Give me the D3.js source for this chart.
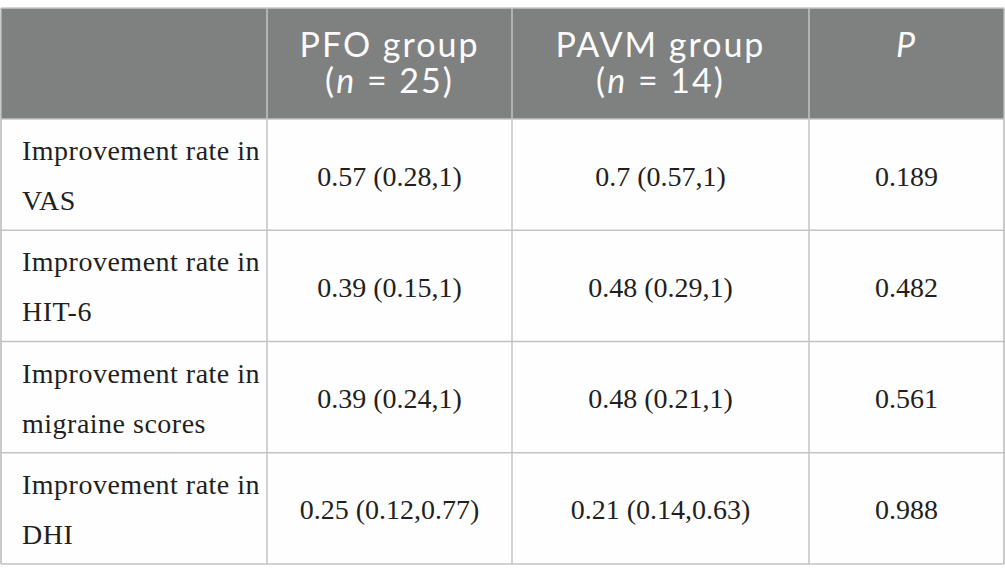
<!DOCTYPE html>
<html>
<head>
<meta charset="utf-8">
<script src="https://cdn.jsdelivr.net/npm/d3@7"></script>
<style>
  body { margin: 0; background: #fff; }
  svg { display: block; }
  .hdr { font-family: Lato, "Open Sans", sans-serif; fill: #fbfbfb; letter-spacing: 2px; }
  .cell { font-family: "Liberation Serif", "DejaVu Serif", serif; fill: #231f20; }
</style>
</head>
<body>
<div id="chart"></div>
<script>
// table content
const headers = [[""], ["PFO group", "(#n# = 25)"], ["PAVM group", "(#n# = 14)"], ["#P#"]];
const rowLabels = [
  ["Improvement rate in", "VAS"],
  ["Improvement rate in", "HIT-6"],
  ["Improvement rate in", "migraine scores"],
  ["Improvement rate in", "DHI"]
];
const pfoValues = ["0.57 (0.28,1)", "0.39 (0.15,1)", "0.39 (0.24,1)", "0.25 (0.12,0.77)"];
const pavmValues = ["0.7 (0.57,1)", "0.48 (0.29,1)", "0.48 (0.21,1)", "0.21 (0.14,0.63)"];
const pValues = ["0.189", "0.482", "0.561", "0.988"];

const width = 1005, height = 583;
const tLeft = 1, tRight = 1004, tTop = 8, headBottom = 119, tBottom = 564;
// column edges in table units
const colEdges = [0, 266, 511, 808, 1003];

const svg = d3.select("#chart").append("svg")
    .attr("width", width)
    .attr("height", height);

const xScale = d3.scaleLinear().domain([0, 1003]).range([tLeft, tRight]);
const yScale = d3.scaleBand()
    .domain(d3.range(rowLabels.length))
    .range([headBottom, tBottom]);

// header background
svg.append("rect")
    .attr("x", xScale(0)).attr("y", tTop)
    .attr("width", xScale(1003) - xScale(0)).attr("height", headBottom - tTop)
    .attr("fill", "#7f8080");

// body background
svg.append("rect")
    .attr("x", xScale(0)).attr("y", headBottom)
    .attr("width", xScale(1003) - xScale(0)).attr("height", tBottom - headBottom)
    .attr("fill", "#fefefe");

// grid lines
const lineColor = "#c3c3c3";
svg.selectAll(".hline")
    .data(d3.range(rowLabels.length + 1))
    .enter().append("line")
    .attr("class", "hline")
    .attr("x1", xScale(0)).attr("x2", xScale(1003))
    .attr("y1", d => d < rowLabels.length ? yScale(d) : tBottom)
    .attr("y2", d => d < rowLabels.length ? yScale(d) : tBottom)
    .attr("stroke", lineColor).attr("stroke-width", 1.5);

svg.append("line")
    .attr("x1", xScale(0)).attr("x2", xScale(1003))
    .attr("y1", tTop).attr("y2", tTop)
    .attr("stroke", "#c8c8c8").attr("stroke-width", 1.5);

svg.selectAll(".vline")
    .data(colEdges)
    .enter().append("line")
    .attr("class", "vline")
    .attr("x1", d => xScale(d)).attr("x2", d => xScale(d))
    .attr("y1", tTop)
    .attr("y2", tBottom)
    .attr("stroke", (d, i) => (i === 0 || i === colEdges.length - 1) ? "#b8b8b8" : lineColor)
    .attr("stroke-width", 1.5);

// #...# marks italic
function addRich(lineSel, str) {
  str.split("#").forEach((part, k) => {
    if (!part) return;
    lineSel.append("tspan")
      .attr("font-style", k % 2 === 1 ? "italic" : "normal")
      .text(part);
  });
}

const colCenter = i => (xScale(colEdges[i]) + xScale(colEdges[i + 1])) / 2;

// header: one text per cell, lines as tspans 36px apart
headers.forEach((lines, i) => {
  const t = svg.append("text")
      .attr("class", "hdr")
      .attr("x", colCenter(i))
      .attr("y", tTop + 49)
      .attr("text-anchor", "middle")
      .attr("font-size", 34);
  lines.forEach((ln, j) => {
    const lineSpan = t.append("tspan")
        .attr("x", colCenter(i))
        .attr("dy", j === 0 ? 0 : 36);
    addRich(lineSpan, ln);
  });
});

// body rows
rowLabels.forEach((lines, r) => {
  const cy = yScale(r) + yScale.bandwidth() / 2;
  const lab = svg.append("text")
      .attr("class", "cell")
      .attr("x", xScale(colEdges[0]) + 21)
      .attr("y", cy - 14.5)
      .attr("font-size", 28)
      .attr("letter-spacing", 0.5);
  lines.forEach((ln, j) => {
    lab.append("tspan")
        .attr("x", xScale(colEdges[0]) + 21)
        .attr("dy", j === 0 ? 0 : 50)
        .text(ln);
  });
  [pfoValues, pavmValues, pValues].forEach((arr, c) => {
    svg.append("text")
        .attr("class", "cell")
        .attr("x", colCenter(c + 1))
        .attr("y", cy + 11)
        .attr("text-anchor", "middle")
        .attr("font-size", 28)
        .text(arr[r]);
  });
});
</script>
</body>
</html>
